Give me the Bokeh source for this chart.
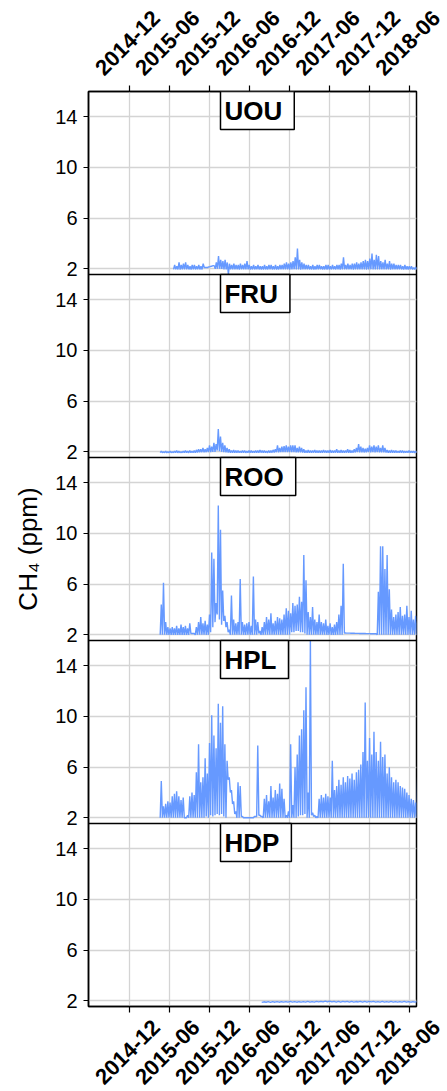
import math
import pandas as pd
from bokeh.plotting import figure
from bokeh.layouts import column
from bokeh.core.properties import value
from bokeh.models import (Range1d, FixedTicker, Label, Span, DatetimeAxis,
                          CustomJSTickFormatter)
from bokeh.embed import file_html
from bokeh.resources import INLINE

# ---------------- data ----------------
tick_labels = ["2014-12", "2015-06", "2015-12", "2016-06",
               "2016-12", "2017-06", "2017-12", "2018-06"]
y_ticks = [2, 6, 10, 14]
stations = ["UOU", "FRU", "ROO", "HPL", "HDP"]

# each station: start of 10-day (HDP: 20-day) windows, window minima and maxima (ppm)
uou_start = "2015-06-20"
uou_high = [2.3, 2.2, 2.5, 2.3, 2.4, 2.5, 2.3, 2.2, 2.3, 2.3,
            2.2, 2.3, 2.2, 2.4, 2.1, 2.1, 2.15, 2.2, 2.25, 2.5,
            3.0, 2.7, 2.6, 2.7, 2.5, 2.4, 2.3, 2.4, 2.3, 2.3,
            2.4, 2.3, 2.4, 2.6, 2.3, 2.2, 2.3, 2.2, 2.3, 2.2,
            2.2, 2.3, 2.2, 2.3, 2.3, 2.2, 2.3, 2.2, 2.3, 2.3,
            2.4, 2.5, 2.4, 2.5, 2.6, 2.9, 3.6, 2.7, 2.5, 2.4,
            2.3, 2.3, 2.2, 2.3, 2.2, 2.3, 2.3, 2.2, 2.2, 2.3,
            2.3, 2.2, 2.3, 2.2, 2.3, 2.3, 2.4, 2.9, 2.3, 2.4,
            2.3, 2.4, 2.4, 2.5, 2.4, 2.5, 2.6, 2.7, 2.6, 2.8,
            3.2, 2.7, 3.1, 3.0, 2.6, 2.5, 2.7, 2.4, 2.6, 2.4,
            2.4, 2.3, 2.3, 2.3, 2.2, 2.3, 2.2, 2.2, 2.2, 2.1, 2.15, 2.1]
uou_low = [1.95, 1.96, 1.95, 1.94, 1.95, 1.96, 1.95, 1.95, 1.94, 1.95,
           1.95, 1.96, 1.95, 1.95, 2.1, 2.1, 2.15, 2.2, 2.25, 2.0,
           2.0, 2.0, 2.0, 1.95, 1.95, 1.55, 1.95, 1.96, 1.95, 1.95,
           1.94, 1.95, 1.95, 1.96, 1.95, 1.94, 1.95, 1.95, 1.96, 1.95,
           1.95, 1.94, 1.95, 1.95, 1.96, 1.95, 1.95, 1.94, 1.95, 1.95,
           1.96, 1.95, 1.95, 1.94, 1.95, 1.96, 1.95, 1.95, 1.94, 1.95,
           1.95, 1.96, 1.95, 1.95, 1.94, 1.95, 1.95, 1.96, 1.95, 1.95,
           1.94, 1.95, 1.95, 1.96, 1.95, 1.95, 1.94, 1.95, 1.95, 1.96,
           1.95, 1.95, 1.94, 1.95, 1.95, 1.96, 1.95, 1.95, 1.94, 1.95,
           1.96, 1.95, 1.95, 1.94, 1.95, 1.95, 1.96, 1.95, 1.95, 1.94,
           1.95, 1.95, 1.96, 1.95, 1.95, 1.94, 1.95, 1.95, 1.96, 1.95, 1.95, 1.94]

fru_start = "2015-04-20"
fru_high = [2.05, 2.0, 2.05, 2.0, 2.05, 2.0, 2.05, 2.1, 2.05, 2.0,
            2.05, 2.1, 2.05, 2.1, 2.05, 2.1, 2.15, 2.2, 2.2, 2.3,
            2.2, 2.3, 2.5, 2.4, 2.7, 2.6, 3.8, 3.2, 2.7, 2.5,
            2.3, 2.2, 2.1, 2.15, 2.1, 2.1, 2.05, 2.1, 2.1, 2.05,
            2.1, 2.1, 2.05, 2.1, 2.1, 2.15, 2.1, 2.1, 2.05, 2.1,
            2.1, 2.15, 2.2, 2.5, 2.3, 2.4, 2.45, 2.5, 2.4, 2.5,
            2.5, 2.5, 2.3, 2.4, 2.3, 2.2, 2.1, 2.15, 2.1, 2.1,
            2.15, 2.1, 2.1, 2.1, 2.15, 2.1, 2.1, 2.15, 2.1, 2.1,
            2.2, 2.1, 2.15, 2.1, 2.1, 2.2, 2.15, 2.1, 2.2, 2.3,
            2.6, 2.4, 2.3, 2.25, 2.3, 2.5, 2.4, 2.5, 2.4, 2.5,
            2.3, 2.5, 2.3, 2.15, 2.1, 2.15, 2.1, 2.1, 2.05, 2.1,
            2.1, 2.05, 2.05, 2.1, 2.05, 2.05, 2.05, 2.05]
fru_low = [1.93, 1.94, 1.93, 1.92, 1.93, 1.94, 1.93, 1.93, 1.92, 1.93,
           1.94, 1.93, 1.93, 1.92, 1.93, 1.94, 1.93, 1.95, 1.96, 1.97,
           1.96, 1.97, 1.98, 1.98, 2.0, 2.0, 2.1, 2.05, 2.0, 1.97,
           1.95, 1.94, 1.93, 1.93, 1.92, 1.93, 1.94, 1.93, 1.93, 1.92,
           1.93, 1.94, 1.93, 1.93, 1.92, 1.93, 1.94, 1.93, 1.93, 1.92,
           1.93, 1.94, 1.95, 1.97, 1.96, 1.97, 1.97, 1.98, 1.97, 1.98,
           1.98, 1.97, 1.96, 1.96, 1.95, 1.94, 1.93, 1.93, 1.92, 1.93,
           1.94, 1.93, 1.93, 1.92, 1.93, 1.94, 1.93, 1.93, 1.92, 1.93,
           1.94, 1.93, 1.93, 1.92, 1.93, 1.94, 1.93, 1.93, 1.94, 1.95,
           1.97, 1.96, 1.95, 1.95, 1.96, 1.97, 1.96, 1.97, 1.96, 1.97,
           1.96, 1.96, 1.95, 1.94, 1.93, 1.93, 1.92, 1.93, 1.94, 1.93,
           1.93, 1.92, 1.93, 1.94, 1.93, 1.93, 1.92, 1.93]

roo_start = "2015-04-20"
roo_high = [4.4, 6.1, 3.0, 2.6, 2.5, 2.6, 2.5, 2.7, 2.5, 2.8,
            2.6, 2.7, 2.5, 2.9, 2.1, 2.1, 2.6, 3.0, 3.4, 2.9,
            3.1, 2.8, 3.6, 8.5, 8.0, 4.5, 12.2, 10.3, 5.5, 3.5,
            3.0, 2.4, 5.1, 3.2, 2.9, 3.0, 6.4, 3.0, 2.8, 2.9,
            3.0, 2.7, 6.6, 3.2, 3.0, 2.3, 2.6, 3.0, 3.4, 3.2,
            3.7, 2.9, 3.1, 3.4, 3.3, 3.2, 3.6, 4.1, 3.9, 3.7,
            4.5, 4.3, 4.4, 5.0, 4.6, 8.3, 6.3, 3.8, 3.4, 4.2,
            3.2, 3.0, 3.6, 3.0, 2.9, 3.2, 2.7, 2.9, 2.6, 2.8,
            3.0, 3.6, 4.3, 7.6, 2.14, 2.13, 2.13, 2.12, 2.12, 2.11,
            2.11, 2.1, 2.1, 2.1, 2.09, 2.09, 2.08, 2.08, 2.08, 5.4,
            9.0, 9.0, 7.2, 8.3, 5.6, 4.0, 3.4, 3.6, 3.8, 4.2,
            3.5, 3.6, 4.3, 3.4, 3.9, 3.2, 3.5, 3.3]
roo_low = [2.0, 2.0, 2.0, 2.0, 2.0, 2.0, 2.0, 2.0, 2.0, 2.0,
           2.0, 2.0, 2.0, 2.0, 2.1, 2.1, 2.0, 2.0, 2.0, 2.0,
           2.0, 2.0, 2.0, 2.2, 2.6, 3.0, 3.6, 3.2, 2.8, 3.1,
           2.6, 2.2, 2.0, 2.0, 2.0, 2.0, 2.0, 2.0, 2.0, 2.0,
           2.0, 2.0, 2.0, 2.0, 2.0, 2.1, 2.0, 2.0, 2.0, 2.0,
           2.0, 2.0, 2.0, 2.0, 2.0, 2.0, 2.0, 2.0, 2.0, 2.0,
           2.2, 2.2, 2.3, 2.3, 2.2, 2.2, 2.1, 2.0, 2.0, 2.0,
           2.0, 2.0, 2.0, 2.0, 2.0, 2.0, 2.0, 2.0, 2.0, 2.0,
           2.0, 2.0, 2.0, 2.0, 2.14, 2.13, 2.13, 2.12, 2.12, 2.11,
           2.11, 2.1, 2.1, 2.1, 2.09, 2.09, 2.08, 2.08, 2.08, 2.0,
           2.0, 2.0, 2.0, 2.0, 2.0, 2.0, 2.0, 2.0, 2.0, 2.0,
           2.0, 2.0, 2.0, 2.0, 2.0, 2.0, 2.0, 2.0]

hpl_start = "2015-04-20"
hpl_high = [4.9, 2.9, 3.1, 3.3, 3.2, 3.7, 3.9, 4.1, 3.7, 3.4,
            3.6, 2.0, 2.2, 3.7, 4.0, 3.8, 5.6, 7.8, 4.8, 5.2,
            6.7, 5.5, 7.9, 10.1, 8.5, 7.5, 11.0, 9.5, 10.8, 7.8,
            6.5, 5.2, 4.2, 3.3, 2.5, 4.8, 4.5, 2.1, 2.0, 2.0,
            2.0, 2.0, 2.0, 2.1, 7.7, 2.2, 2.1, 3.5, 3.8, 3.3,
            4.5, 3.6, 4.2, 3.9, 4.7, 4.3, 3.5, 2.2, 2.5, 7.8,
            3.0, 6.0, 7.0, 8.5, 9.0, 10.5, 12.3, 4.0, 17.0, 2.4,
            2.2, 2.1, 3.5, 3.8, 3.6, 3.9, 3.7, 3.6, 6.5, 4.2,
            4.5, 5.0, 4.6, 5.2, 4.8, 5.3, 5.1, 5.5, 5.0, 5.6,
            5.8, 6.2, 7.2, 11.1, 6.5, 8.3, 7.0, 8.8, 7.2, 6.5,
            8.0, 6.8, 7.0, 5.5, 6.0, 5.2, 4.8, 5.0, 4.8, 4.5,
            4.4, 4.3, 4.0, 3.8, 3.5, 3.4, 3.2, 5.7]
hpl_low = [2.0, 2.0, 2.0, 2.0, 2.0, 2.0, 2.0, 2.0, 2.0, 2.0,
           2.0, 2.0, 2.0, 2.0, 2.0, 2.0, 2.0, 2.0, 2.0, 2.0,
           2.0, 2.1, 2.0, 2.2, 2.1, 2.2, 2.3, 2.2, 2.3, 2.1,
           2.0, 5.0, 4.0, 3.1, 2.3, 2.0, 2.0, 2.1, 2.0, 2.0,
           2.0, 2.0, 2.0, 2.1, 2.1, 2.2, 2.1, 2.0, 2.0, 2.0,
           2.0, 2.0, 2.0, 2.0, 2.0, 2.0, 2.0, 2.0, 2.0, 2.0,
           2.0, 2.0, 2.0, 2.1, 2.2, 2.2, 2.3, 2.0, 2.0, 2.2,
           2.1, 2.0, 2.0, 2.0, 2.0, 2.0, 2.0, 2.0, 2.0, 2.0,
           2.0, 2.0, 2.0, 2.0, 2.0, 2.0, 2.0, 2.0, 2.0, 2.0,
           2.0, 2.0, 2.0, 2.0, 2.0, 2.0, 2.0, 2.0, 2.0, 2.0,
           2.0, 2.0, 2.0, 2.0, 2.0, 2.0, 2.0, 2.0, 2.0, 2.0,
           2.0, 2.0, 2.0, 2.0, 2.0, 2.0, 2.0, 2.0]

hdp_start = "2016-07-26"
hdp_high = [1.92, 1.93, 1.93, 1.94, 1.93, 1.94, 1.95, 1.94, 1.93, 1.94,
            1.95, 1.94, 1.95, 1.96, 1.97, 1.98, 1.96, 1.95, 1.95, 1.96,
            1.95, 1.94, 1.95, 1.96, 1.95, 1.95, 1.94, 1.95, 1.94, 1.95,
            1.94, 1.94, 1.95, 1.94, 1.93, 1.94]
hdp_low = [1.88, 1.89, 1.88, 1.89, 1.89, 1.90, 1.89, 1.90, 1.89, 1.90,
           1.90, 1.89, 1.90, 1.91, 1.91, 1.92, 1.91, 1.90, 1.90, 1.91,
           1.90, 1.90, 1.91, 1.90, 1.90, 1.91, 1.90, 1.90, 1.89, 1.90,
           1.90, 1.89, 1.90, 1.89, 1.89, 1.90]

series = {
    "UOU": (uou_start, 10, uou_low, uou_high),
    "FRU": (fru_start, 10, fru_low, fru_high),
    "ROO": (roo_start, 10, roo_low, roo_high),
    "HPL": (hpl_start, 10, hpl_low, hpl_high),
    "HDP": (hdp_start, 20, hdp_low, hdp_high),
}

# ---------------- styling / geometry ----------------
FONT = "Liberation Sans"
LINE_COLOR = "#6699ff"
GRID_COLOR = "#d4d4d4"
YMIN, YMAX = 1.55, 16.0
S = YMAX - YMIN                  # data span of one panel
NP = len(stations)
FRAME_W, PANEL_H = 328, 183
BL, BR = 88, 30                  # left / right borders
BT, BB = 89, 8                   # top border holds the upper date axis
BOT_H = 76                       # height of the lower rotated date-label strip
LABEL_PX = 22
HALF_DIAG = 0.5 * (6 * 0.556 + 0.333) * LABEL_PX * math.cos(math.pi / 4)

x_start, x_end = pd.Timestamp("2014-05-28"), pd.Timestamp("2018-07-02")
ms0, ms1 = x_start.value / 1e6, x_end.value / 1e6
ms_per_px = (ms1 - ms0) / FRAME_W
tick_ms = [pd.Timestamp(t + "-01").value / 1e6 for t in tick_labels]
name_x = pd.Timestamp("2016-01-20").value / 1e6


def panel_y(k, v):
    """map a value of panel k (0 = top) to the stacked y coordinate"""
    return (NP - 1 - k) * S + (min(v, YMAX) - YMIN)


def window_trace(start, step, lows, highs):
    d0 = pd.Timestamp(start)
    xs, ys = [], []
    for i, (lo, hi) in enumerate(zip(lows, highs)):
        t = d0 + pd.Timedelta(days=step * i)
        xs += [t, t + pd.Timedelta(days=step / 2)]
        ys += [lo, hi]
    return xs, ys


# ---------------- main stacked figure ----------------
x_range = Range1d(start=x_start, end=x_end)
p = figure(x_axis_type="datetime", x_range=x_range, y_range=Range1d(0, NP * S),
           frame_width=FRAME_W, frame_height=NP * PANEL_H,
           min_border_left=BL, min_border_right=BR,
           min_border_top=BT, min_border_bottom=BB,
           output_backend="svg", toolbar_location=None)
p.background_fill_color = "white"
p.border_fill_color = "white"
p.outline_line_color = "black"
p.outline_line_width = 1.5

# lower axis: tick marks only (labels live in the strip below)
bx = p.below[0]
bx.ticker = FixedTicker(ticks=tick_ms)
bx.formatter = CustomJSTickFormatter(code="return ''")
bx.major_label_text_font_size = "1px"
bx.major_label_standoff = 0
bx.major_tick_out = 6
bx.major_tick_in = 0
bx.minor_tick_line_color = None
bx.axis_line_color = "black"
bx.axis_line_width = 1.5
bx.major_tick_line_color = "black"
bx.major_tick_line_width = 1.2

# upper axis: tick marks as minor ticks at the dates, rotated labels centred over them
lab_pos = [t - (HALF_DIAG + 2) * ms_per_px for t in tick_ms]
top_axis = DatetimeAxis()
p.add_layout(top_axis, "above")
top_axis.ticker = FixedTicker(ticks=lab_pos, minor_ticks=tick_ms)
top_axis.formatter = CustomJSTickFormatter(
    args=dict(pos=lab_pos, lab=tick_labels),
    code="const i = pos.findIndex(v => Math.abs(v - tick) < 1); return i >= 0 ? lab[i] : '';")
top_axis.major_label_orientation = math.pi / 4
top_axis.major_label_text_font = FONT
top_axis.major_label_text_font_style = "bold"
top_axis.major_label_text_font_size = f"{LABEL_PX}px"
top_axis.major_label_text_color = "black"
top_axis.major_label_standoff = 14
top_axis.major_tick_out = 0
top_axis.major_tick_in = 0
top_axis.major_tick_line_color = None
top_axis.minor_tick_out = 6
top_axis.minor_tick_in = 0
top_axis.minor_tick_line_color = "black"
top_axis.minor_tick_line_width = 1.2
top_axis.axis_line_color = "black"
top_axis.axis_line_width = 1.5

y_tick_pos = [panel_y(k, t) for k in range(NP) for t in y_ticks]
y_tick_lab = [str(t) for k in range(NP) for t in y_ticks]
p.yaxis.ticker = FixedTicker(ticks=y_tick_pos)
p.yaxis.formatter = CustomJSTickFormatter(
    args=dict(pos=y_tick_pos, lab=y_tick_lab),
    code="const i = pos.findIndex(v => Math.abs(v - tick) < 1e-6); return i >= 0 ? lab[i] : '';")
p.yaxis.major_tick_out = 5
p.yaxis.major_tick_in = 0
p.yaxis.minor_tick_line_color = None
p.yaxis.axis_line_color = "black"
p.yaxis.axis_line_width = 1.5
p.yaxis.major_tick_line_color = "black"
p.yaxis.major_tick_line_width = 1.2
p.yaxis.major_label_text_font = FONT
p.yaxis.major_label_text_font_size = "20px"
p.yaxis.major_label_text_color = "black"
p.yaxis.major_label_standoff = 6
p.yaxis.axis_label = "CH\u2084 (ppm)"
p.yaxis.axis_label_text_font = FONT
p.yaxis.axis_label_text_font_size = "26px"
p.yaxis.axis_label_text_font_style = "normal"
p.yaxis.axis_label_text_color = "black"
p.yaxis.axis_label_standoff = 9

p.xgrid.ticker = FixedTicker(ticks=tick_ms)
p.ygrid.ticker = FixedTicker(ticks=y_tick_pos)
p.grid.grid_line_color = GRID_COLOR
p.grid.grid_line_width = 1.3

for k, name in enumerate(stations):
    start, step, lows, highs = series[name]
    xs, ys = window_trace(start, step, lows, highs)
    p.line(xs, [panel_y(k, v) for v in ys], line_color=LINE_COLOR, line_width=1.4)
    if k > 0:
        p.add_layout(Span(location=(NP - k) * S, dimension="width",
                          line_color="black", line_width=1.5))
    p.add_layout(Label(x=name_x, y=(NP - k) * S, text=name,
                       text_font=FONT, text_font_style="bold", text_font_size="26px",
                       text_color="black", text_align="left", text_baseline="top",
                       background_fill_color="white", border_line_color="black",
                       border_line_width=1.5, padding=(4, 12, 4, 4)))


# ---------------- lower rotated date-label strip ----------------
def label_strip(height, center_from_top):
    s = figure(x_range=Range1d(ms0, ms1 + BR * ms_per_px),
               y_range=Range1d(0, height),
               frame_width=FRAME_W + BR, frame_height=height,
               min_border_left=BL, min_border_right=0,
               min_border_top=0, min_border_bottom=0,
               x_axis_location=None, y_axis_location=None,
               output_backend="svg", toolbar_location=None)
    s.outline_line_color = None
    s.grid.visible = False
    s.background_fill_color = "white"
    s.border_fill_color = "white"
    xs = [t - 2 * ms_per_px for t in tick_ms]
    s.text(x=xs, y=height - center_from_top, text=tick_labels, angle=math.pi / 4,
           text_align="center", text_baseline="middle",
           text_font=value(FONT), text_font_style="bold",
           text_font_size=f"{LABEL_PX}px", text_color="black")
    return s


bottom_strip = label_strip(BOT_H, 1049.5 - (BT + NP * PANEL_H + BB))

layout = column(p, bottom_strip, spacing=0)
open("out.html", "w").write(file_html(layout, INLINE))
